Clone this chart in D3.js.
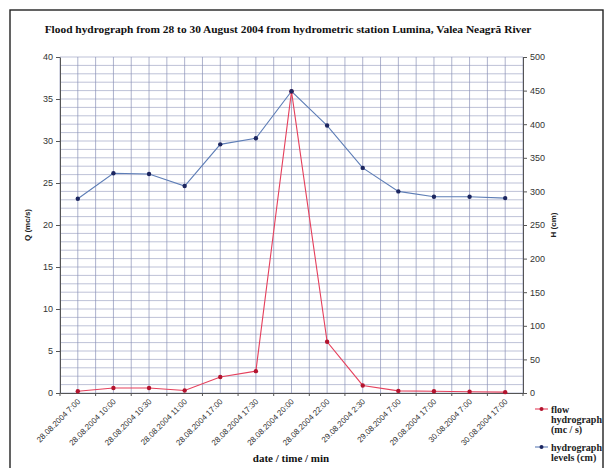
<!DOCTYPE html>
<html>
<head>
<meta charset="utf-8">
<script src="https://cdn.jsdelivr.net/npm/d3@7"></script>
<style>
  html, body { margin: 0; padding: 0; background: #fff; }
  svg { display: block; }
</style>
</head>
<body>
<svg id="chart" width="606" height="468"></svg>
<script>
// Observation times (x categories)
const times = [
  "28.08.2004 7:00", "28.08.2004 10:00", "28.08.2004 10:30", "28.08.2004 11:00",
  "28.08.2004 17:00", "28.08.2004 17:30", "28.08.2004 20:00", "28.08.2004 22:00",
  "29.08.2004 2:30", "29.08.2004 7:00", "29.08.2004 17:00", "30.08.2004 7:00",
  "30.08.2004 17:00"
];
// Discharge Q (m³/s)
const flow = [0.2, 0.6, 0.6, 0.3, 1.9, 2.6, 35.9, 6.1, 0.9, 0.25, 0.2, 0.15, 0.1];
// Water level H (cm)
const levels = [289, 327, 326, 308, 370, 379, 449, 398, 335, 300, 292, 292, 290];
// Axis ticks
const qTicks = [0, 5, 10, 15, 20, 25, 30, 35, 40];
const hTicks = [0, 50, 100, 150, 200, 250, 300, 350, 400, 450, 500];

const svg = d3.select("#chart");
const L = 60, R = 523, T = 57, B = 393;

const x = d3.scaleBand().domain(times).range([L, R]).paddingInner(0).paddingOuter(0);
const yQ = d3.scaleLinear().domain([0, 40]).range([B, T]);
const yH = d3.scaleLinear().domain([0, 500]).range([B, T]);
const cx = d => x(d) + x.bandwidth() / 2;

// outer frame
svg.append("rect").attr("x", 10).attr("y", 10).attr("width", 593).attr("height", 460)
  .attr("fill", "none").attr("stroke", "#222").attr("stroke-width", 1.4);

// title
svg.append("text").attr("x", 288).attr("y", 33).attr("text-anchor", "middle")
  .attr("font-family", "Liberation Serif, Times New Roman, serif").attr("font-weight", "bold")
  .attr("font-size", 11.4).attr("fill", "#111")
  .text("Flood hydrograph from 28 to 30 August 2004 from hydrometric station Lumina,  Valea Neagră River");

// grid: one horizontal line per unit of Q, vertical lines every half category
const grid = svg.append("g").attr("stroke-width", 0.7);
d3.range(0, 41).forEach(v => {
  grid.append("line").attr("x1", L).attr("x2", R).attr("y1", yQ(v)).attr("y2", yQ(v))
    .attr("stroke", "#a2a7c6");
});
d3.range(0, times.length * 2 + 1).forEach(i => {
  const xx = L + i * x.bandwidth() / 2;
  grid.append("line").attr("x1", xx).attr("x2", xx).attr("y1", T).attr("y2", B)
    .attr("stroke", "#8a90b6");
});

// axes
const tickFont = g => g.selectAll("text").attr("font-family", "Liberation Sans, Arial, sans-serif")
  .attr("font-size", 9).attr("fill", "#333");
const axisStyle = g => { g.selectAll("path, line").attr("stroke", "#555"); };

svg.append("g").attr("transform", `translate(${L},0)`)
  .call(d3.axisLeft(yQ).tickValues(qTicks).tickSize(4).tickPadding(3).tickSizeOuter(0))
  .call(tickFont).call(axisStyle);

svg.append("g").attr("transform", `translate(${R},0)`)
  .call(d3.axisRight(yH).tickValues(hTicks).tickSize(4).tickPadding(3).tickSizeOuter(0))
  .call(tickFont).call(axisStyle);

const xAxis = svg.append("g").attr("transform", `translate(0,${B})`)
  .call(d3.axisBottom(x).tickSize(0).tickSizeOuter(0).tickFormat(d => d))
  .call(axisStyle);
xAxis.selectAll(".tick text")
  .attr("font-family", "Liberation Sans, Arial, sans-serif").attr("font-size", 8).attr("fill", "#333")
  .attr("text-anchor", "end").attr("dy", 0).attr("y", 0)
  .attr("transform", "translate(3,9) rotate(-45)");
// boundary ticks on the x axis
d3.range(0, times.length + 1).forEach(i => {
  const xx = L + i * x.bandwidth();
  xAxis.append("line").attr("x1", xx).attr("x2", xx).attr("y1", 0).attr("y2", 3).attr("stroke", "#555");
});

// axis titles
svg.append("text").attr("transform", `translate(30,${(T + B) / 2}) rotate(-90)`)
  .attr("text-anchor", "middle").attr("font-family", "Liberation Sans, Arial, sans-serif")
  .attr("font-weight", "bold").attr("font-size", 8).attr("fill", "#222").text("Q (mc/s)");
svg.append("text").attr("transform", `translate(556,${(T + B) / 2}) rotate(-90)`)
  .attr("text-anchor", "middle").attr("font-family", "Liberation Sans, Arial, sans-serif")
  .attr("font-weight", "bold").attr("font-size", 8).attr("fill", "#222").text("H (cm)");
svg.append("text").attr("x", 291).attr("y", 462).attr("text-anchor", "middle")
  .attr("font-family", "Liberation Serif, Times New Roman, serif").attr("font-weight", "bold")
  .attr("font-size", 11).attr("fill", "#111").text("date / time / min");

// series
const lineQ = d3.line().x((d, i) => cx(times[i])).y(d => yQ(d));
const lineH = d3.line().x((d, i) => cx(times[i])).y(d => yH(d));

svg.append("path").datum(levels).attr("d", lineH).attr("fill", "none")
  .attr("stroke", "#5d7db6").attr("stroke-width", 1.1);
svg.append("path").datum(flow).attr("d", lineQ).attr("fill", "none")
  .attr("stroke", "#e5405c").attr("stroke-width", 1.1);

svg.append("g").selectAll("circle").data(flow).join("circle")
  .attr("cx", (d, i) => cx(times[i])).attr("cy", d => yQ(d)).attr("r", 2.2).attr("fill", "#b3142e");
svg.append("g").selectAll("circle").data(levels).join("circle")
  .attr("cx", (d, i) => cx(times[i])).attr("cy", d => yH(d)).attr("r", 2.2).attr("fill", "#1c2660");

// legend
const leg = svg.append("g").attr("font-family", "Liberation Serif, Times New Roman, serif")
  .attr("font-weight", "bold").attr("font-size", 10).attr("fill", "#222");
const legendItems = [
  { color: "#e5405c", dot: "#b3142e", lines: ["flow", "hydrograph", "(mc / s)"], y: 409 },
  { color: "#5d7db6", dot: "#1c2660", lines: ["hydrograph", "levels (cm)"], y: 447 }
];
legendItems.forEach(it => {
  leg.append("line").attr("x1", 535).attr("x2", 548).attr("y1", it.y).attr("y2", it.y)
    .attr("stroke", it.color).attr("stroke-width", 1.1);
  leg.append("circle").attr("cx", 541.5).attr("cy", it.y).attr("r", 2).attr("fill", it.dot);
  it.lines.forEach((t, k) => {
    leg.append("text").attr("x", 551).attr("y", it.y + 3.5 + k * 10).text(t);
  });
});
</script>
</body>
</html>
